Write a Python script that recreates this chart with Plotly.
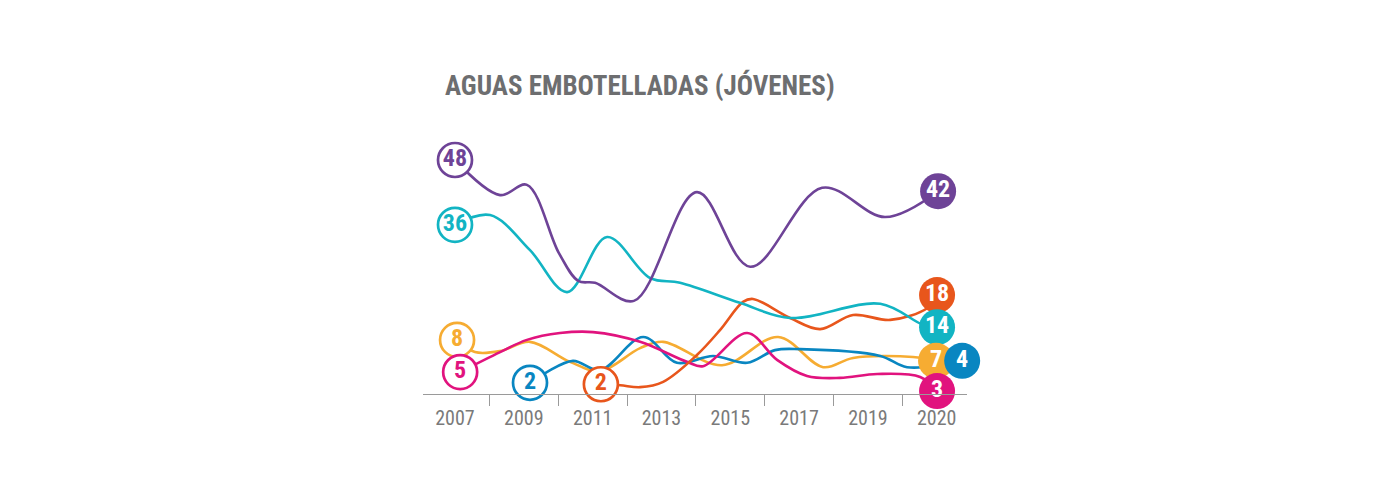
import plotly.graph_objects as go

TITLE = "AGUAS EMBOTELLADAS (JÓVENES)"

# x ticks (labels on odd years, last label "2020" shown at the final slot)
TICK_POS = [2007, 2009, 2011, 2013, 2015, 2017, 2019, 2021]
TICK_TEXT = ["2007", "2009", "2011", "2013", "2015", "2017", "2019", "2020"]
TICK_MARKS = [2008, 2010, 2012, 2014, 2016, 2018, 2020]

# series (x in year units, y in chart units)
purple_x = [2007.00, 2008.31, 2009.09, 2010.02, 2010.58, 2011.07, 2012.20, 2014.03, 2015.58, 2017.67, 2019.50, 2021.04]
purple_y = [48.0, 40.8, 42.9, 28.9, 23.2, 22.8, 19.1, 41.4, 26.1, 42.3, 36.3, 41.6]

teal_x = [2007.00, 2008.02, 2009.18, 2010.26, 2011.42, 2012.67, 2013.54, 2015.28, 2016.74, 2019.36, 2020.60, 2021.01]
teal_y = [34.7, 36.7, 29.5, 20.9, 32.2, 23.8, 22.8, 18.7, 15.6, 18.5, 14.2, 13.7]

orange_x = [2011.24, 2011.80, 2012.38, 2013.05, 2014.03, 2014.70, 2015.37, 2015.66, 2016.74, 2017.61, 2018.57, 2019.65, 2020.72, 2021.01]
orange_y = [2.0, 1.8, 1.4, 2.5, 8.0, 13.1, 18.9, 19.5, 15.6, 13.3, 16.2, 15.2, 17.6, 20.3]

yellow_x = [2007.06, 2007.58, 2008.31, 2009.18, 2010.34, 2011.22, 2012.38, 2013.05, 2014.76, 2016.39, 2017.70, 2018.57, 2020.31, 2020.98]
yellow_y = [11.1, 8.6, 8.8, 10.7, 6.6, 4.7, 9.4, 10.7, 5.9, 11.7, 5.5, 7.4, 7.6, 6.8]

blue_x = [2009.18, 2009.67, 2010.43, 2011.22, 2012.47, 2013.45, 2014.50, 2015.49, 2016.30, 2017.03, 2019.36, 2020.14, 2021.74]
blue_y = [2.3, 4.5, 6.8, 4.9, 11.7, 6.4, 7.8, 6.4, 9.0, 9.2, 7.8, 5.5, 6.8]

magenta_x = [2007.15, 2008.31, 2009.09, 2010.05, 2011.01, 2012.38, 2013.74, 2014.21, 2015.49, 2016.36, 2017.23, 2018.19, 2019.27, 2020.52, 2021.01]
magenta_y = [4.5, 8.6, 11.1, 12.5, 12.7, 10.7, 6.6, 5.7, 12.5, 7.0, 3.7, 3.3, 4.1, 3.5, 0.6]

START_LABELS = {"purple": "48", "teal": "36", "yellow": "8", "magenta": "5", "blue": "2", "orange": "2"}
END_LABELS = {"purple": "42", "orange": "18", "teal": "14", "yellow": "7", "magenta": "3", "blue": "4"}

COLORS = {
    "purple": "#6e4397",
    "teal": "#12b4c3",
    "orange": "#e8561c",
    "yellow": "#f6ac32",
    "blue": "#0986c1",
    "magenta": "#e1137e",
}

SERIES = {
    "purple": (purple_x, purple_y),
    "teal": (teal_x, teal_y),
    "orange": (orange_x, orange_y),
    "yellow": (yellow_x, yellow_y),
    "blue": (blue_x, blue_y),
    "magenta": (magenta_x, magenta_y),
}

COND = "Liberation Sans Narrow, Arial Narrow, Roboto Condensed, sans-serif"

fig = go.Figure()

for name in ["yellow", "blue", "magenta", "orange", "teal", "purple"]:
    xs, ys = SERIES[name]
    fig.add_trace(go.Scatter(
        x=xs, y=ys, mode="lines",
        line=dict(color=COLORS[name], width=2.6, shape="spline", smoothing=1.0),
        hoverinfo="skip", showlegend=False, cliponaxis=False,
    ))

# start circles (hollow)
for name in ["purple", "teal", "yellow", "magenta", "blue", "orange"]:
    xs, ys = SERIES[name]
    fig.add_trace(go.Scatter(
        x=[xs[0]], y=[ys[0]], mode="markers+text",
        marker=dict(size=34, color="white", line=dict(color=COLORS[name], width=2.7)),
        text=[START_LABELS[name]], textposition="middle center",
        textfont=dict(family=COND, size=24, color=COLORS[name], weight="bold"),
        hoverinfo="skip", showlegend=False, cliponaxis=False,
    ))

# end circles (filled)
for name in ["purple", "orange", "teal", "yellow", "magenta", "blue"]:
    xs, ys = SERIES[name]
    fig.add_trace(go.Scatter(
        x=[xs[-1]], y=[ys[-1]], mode="markers+text",
        marker=dict(size=36, color=COLORS[name], line=dict(width=0)),
        text=[END_LABELS[name]], textposition="middle center",
        textfont=dict(family=COND, size=24, color="white", weight="bold"),
        hoverinfo="skip", showlegend=False, cliponaxis=False,
    ))

XR = [2006.07, 2021.88]

fig.update_layout(
    width=1400, height=500,
    paper_bgcolor="white", plot_bgcolor="white",
    margin=dict(l=423, r=433, t=140, b=106),
    title=dict(
        text=TITLE, x=445 / 1400, xanchor="left", xref="container",
        y=1 - 86 / 500, yanchor="middle", yref="container",
        font=dict(family=COND, size=27, color="#6d6e70", weight="bold"),
    ),
    xaxis=dict(
        range=XR, tickvals=TICK_POS, ticktext=TICK_TEXT,
        showgrid=False, zeroline=False, showline=True, linecolor="#9a9a9a", linewidth=1,
        ticks="", tickfont=dict(family=COND, size=20, color="#7a7a7a"),
        ticklabelstandoff=6,
    ),
    xaxis2=dict(
        range=XR, overlaying="x", side="bottom", anchor="y",
        tickvals=TICK_MARKS, showticklabels=False, ticks="outside",
        ticklen=11, tickwidth=1, tickcolor="#9a9a9a",
        showgrid=False, zeroline=False, showline=False,
    ),
    yaxis=dict(range=[0, 52.1], visible=False),
)

# dummy trace to activate the tick-mark axis
fig.add_trace(go.Scatter(x=[XR[0]], y=[None], xaxis="x2", mode="markers",
                         showlegend=False, hoverinfo="skip"))

fig.write_html("out.html")
